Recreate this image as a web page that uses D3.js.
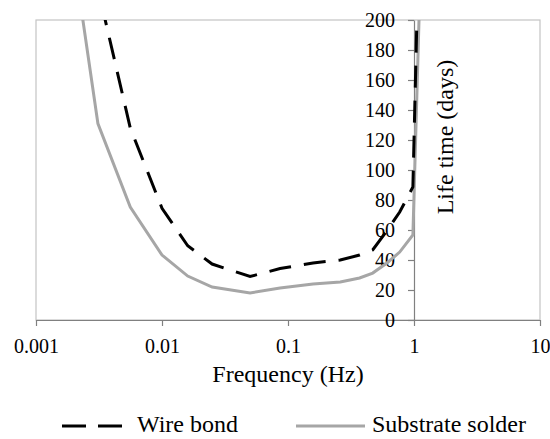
<!DOCTYPE html>
<html>
<head>
    <meta charset="utf-8">
    <title>Life time vs frequency</title>
    <script src="https://d3js.org/d3.v7.min.js"></script>
    <style>
        body { margin: 0; background: #fff; }
        svg text { font-family: "Liberation Serif", "Times New Roman", Times, serif !important; fill: #000; }
    </style>
</head>
<body>
    <div id="chart"></div>

    <script>
        // data
        var freq = [0.002, 0.0031, 0.0056, 0.01, 0.016, 0.025, 0.05, 0.0865, 0.158, 0.26, 0.37, 0.47, 0.61, 0.77, 0.98, 1.1];
        var wireBond = [420, 221, 128, 74.5, 49.5, 37.3, 29, 34.3, 38, 40, 43.3, 46.7, 59.5, 72, 88.7, 265];
        var substrateSolder = [241, 131, 75.3, 43.3, 29.3, 22, 18, 21.3, 24, 25.3, 28, 31.3, 38, 45.3, 56.7, 205];
        var xTicks = [0.001, 0.01, 0.1, 1, 10];
        var xTickLabels = ["0.001", "0.01", "0.1", "1", "10"];
        var yTicks = [0, 20, 40, 60, 80, 100, 120, 140, 160, 180, 200];
        var seriesNames = ["Wire bond", "Substrate solder"];

        var width = 550, height = 439;
        var plot = { left: 36, right: 540, top: 20, bottom: 320 };
        var serif = "'Liberation Serif', 'Times New Roman', Times, serif";

        var svg = d3.select("#chart")
            .append("svg")
            .attr("width", width)
            .attr("height", height)
            .style("font-family", serif);

        var x = d3.scaleLog()
            .domain([0.001, 10])
            .range([plot.left, plot.right]);

        var y = d3.scaleLinear()
            .domain([0, 200])
            .range([plot.bottom, plot.top]);

        // plot area frame
        svg.append("rect")
            .attr("x", plot.left)
            .attr("y", plot.top)
            .attr("width", plot.right - plot.left)
            .attr("height", plot.bottom - plot.top)
            .attr("fill", "none")
            .attr("stroke", "#c4c4c4")
            .attr("stroke-width", 1.2);

        // x axis
        var xAxis = svg.append("g")
            .attr("transform", "translate(0," + plot.bottom + ")")
            .call(d3.axisBottom(x)
                .tickValues(xTicks)
                .tickFormat(function (d, i) { return xTickLabels[i]; })
                .tickSize(6)
                .tickSizeOuter(0)
                .tickPadding(13));
        xAxis.attr("font-family", null);
        xAxis.selectAll("path, line").attr("stroke", "#808080").attr("stroke-width", 1.2);
        xAxis.selectAll("text").attr("font-size", 20).style("font-family", serif);

        // y axis crosses at 1 Hz
        var yAxis = svg.append("g")
            .attr("transform", "translate(" + x(1) + ",0)")
            .call(d3.axisLeft(y)
                .tickValues(yTicks)
                .tickSize(6)
                .tickSizeOuter(0)
                .tickPadding(13));
        yAxis.attr("font-family", null);
        yAxis.selectAll("path, line").attr("stroke", "#808080").attr("stroke-width", 1.2);
        yAxis.selectAll("text").attr("font-size", 20).style("font-family", serif);

        // clip lines to plot area
        svg.append("clipPath")
            .attr("id", "clip")
            .append("rect")
            .attr("x", plot.left)
            .attr("y", plot.top)
            .attr("width", plot.right - plot.left)
            .attr("height", plot.bottom - plot.top);

        var line = d3.line()
            .x(function (d) { return x(d[0]); })
            .y(function (d) { return y(d[1]); });

        svg.append("path")
            .datum(d3.zip(freq, substrateSolder))
            .attr("clip-path", "url(#clip)")
            .attr("fill", "none")
            .attr("stroke", "#a6a6a6")
            .attr("stroke-width", 3)
            .attr("d", line);

        svg.append("path")
            .datum(d3.zip(freq, wireBond))
            .attr("clip-path", "url(#clip)")
            .attr("fill", "none")
            .attr("stroke", "#000")
            .attr("stroke-width", 3)
            .attr("stroke-dasharray", "22,13")
            .attr("d", line);

        // axis titles
        svg.append("text")
            .attr("x", (plot.left + plot.right) / 2)
            .attr("y", 382)
            .attr("text-anchor", "middle")
            .attr("font-size", 24)
            .style("font-family", serif)
            .text("Frequency (Hz)");

        svg.append("text")
            .attr("transform", "translate(453,137) rotate(-90)")
            .attr("text-anchor", "middle")
            .attr("font-size", 24)
            .style("font-family", serif)
            .text("Life time (days)");

        // legend
        var legendY = 426;
        svg.append("line")
            .attr("x1", 62).attr("x2", 123)
            .attr("y1", legendY).attr("y2", legendY)
            .attr("stroke", "#000")
            .attr("stroke-width", 3)
            .attr("stroke-dasharray", "24,12");
        svg.append("text")
            .attr("x", 137).attr("y", 432)
            .attr("font-size", 24)
            .style("font-family", serif)
            .text(seriesNames[0]);

        svg.append("line")
            .attr("x1", 296).attr("x2", 365)
            .attr("y1", legendY).attr("y2", legendY)
            .attr("stroke", "#a6a6a6")
            .attr("stroke-width", 3);
        svg.append("text")
            .attr("x", 372).attr("y", 432)
            .attr("font-size", 24)
            .style("font-family", serif)
            .text(seriesNames[1]);
    </script>
</body>
</html>
